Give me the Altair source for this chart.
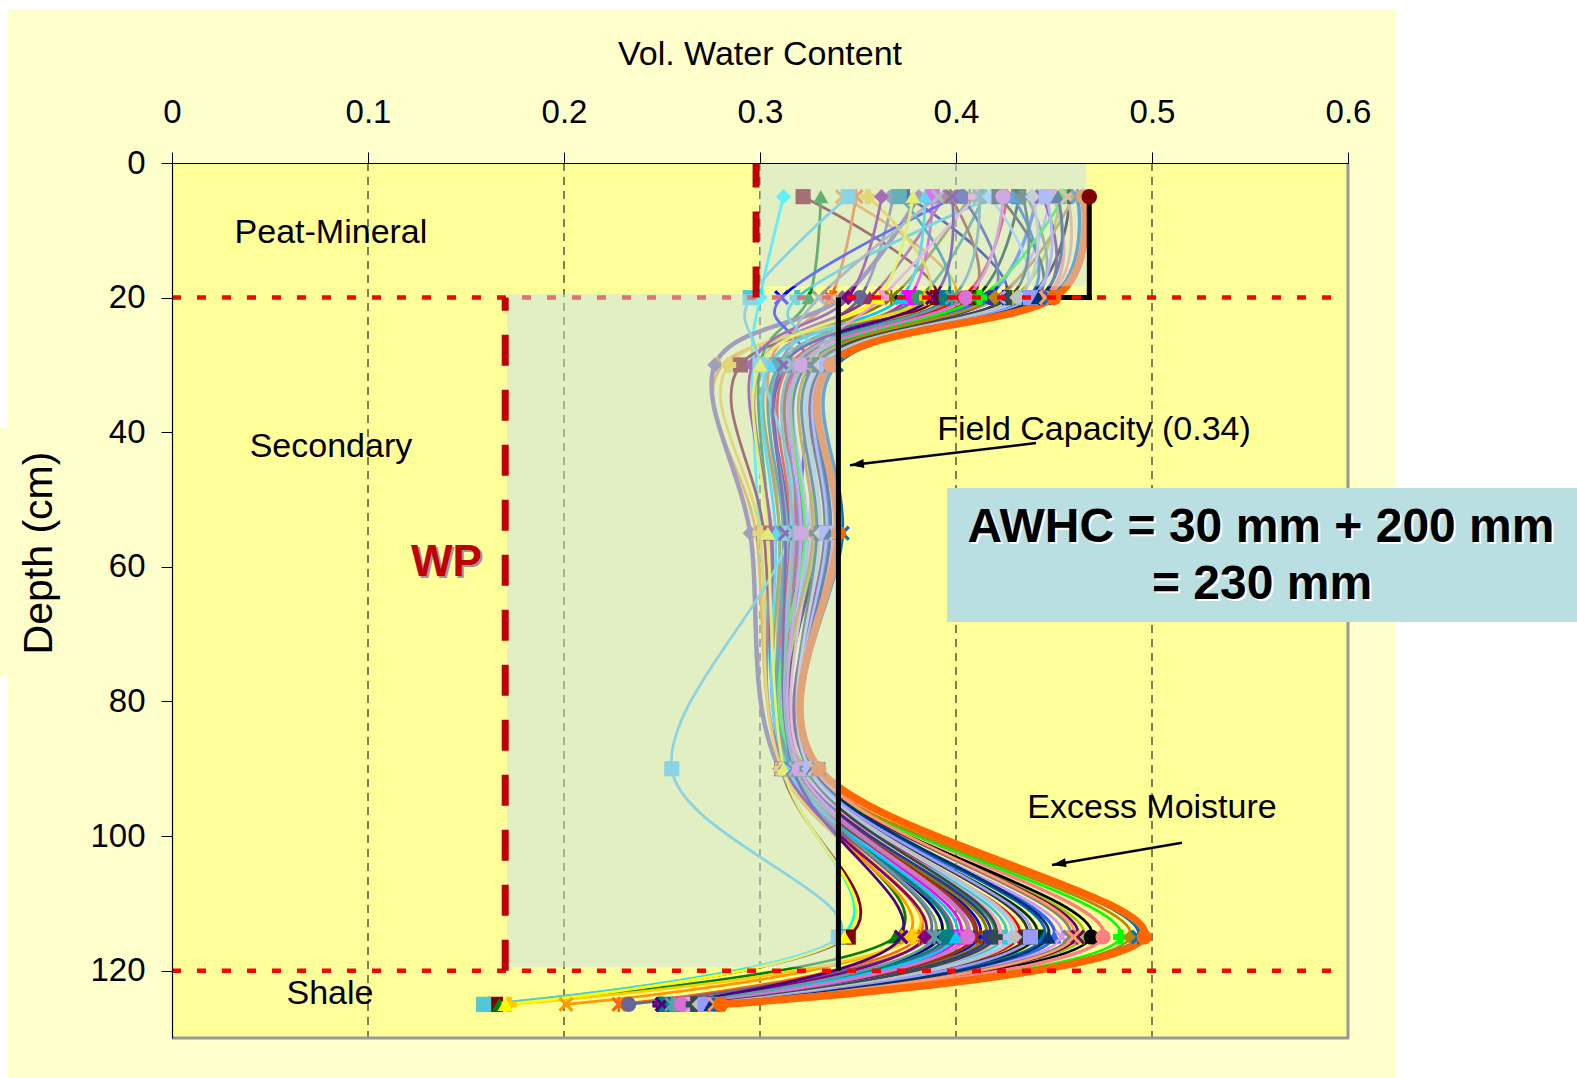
import altair as alt
import pandas as pd

# ---------------- data ----------------
DEPTHS = [5, 20, 30, 55, 90, 115, 125]

VWC_5 = [0.312, 0.322, 0.331, 0.342, 0.349, 0.368, 0.375, 0.381, 0.388, 0.394,
         0.400, 0.407, 0.414, 0.419, 0.426, 0.432, 0.441, 0.448, 0.453, 0.458,
         0.355, 0.362, 0.371, 0.384, 0.391, 0.397, 0.403, 0.410, 0.417, 0.422,
         0.429, 0.436, 0.444, 0.450, 0.455, 0.460, 0.345, 0.378, 0.398, 0.412,
         0.424, 0.434, 0.439, 0.446, 0.452, 0.457, 0.462, 0.465]
VWC_20 = [0.300, 0.390, 0.325, 0.399, 0.336, 0.351, 0.425, 0.342, 0.376, 0.356,
          0.311, 0.367, 0.381, 0.319, 0.403, 0.410, 0.415, 0.422, 0.429, 0.436,
          0.385, 0.345, 0.395, 0.372, 0.330, 0.408, 0.418, 0.362, 0.433, 0.441,
          0.437, 0.440, 0.443, 0.445, 0.412, 0.420, 0.295, 0.360, 0.388, 0.398,
          0.405, 0.427, 0.431, 0.438, 0.442, 0.446, 0.448, 0.450]
VWC_30 = [0.296, 0.290, 0.300, 0.281, 0.305, 0.310, 0.315, 0.277, 0.319, 0.300,
          0.324, 0.305, 0.310, 0.329, 0.315, 0.332, 0.319, 0.324, 0.329, 0.332,
          0.284, 0.296, 0.310, 0.305, 0.315, 0.319, 0.324, 0.327, 0.330, 0.333,
          0.335, 0.336, 0.334, 0.337, 0.322, 0.326, 0.300, 0.300, 0.312, 0.317,
          0.321, 0.328, 0.331, 0.334, 0.336, 0.338, 0.339, 0.336]
VWC_55 = [0.300, 0.302, 0.305, 0.298, 0.310, 0.312, 0.315, 0.295, 0.318, 0.305,
          0.320, 0.310, 0.314, 0.325, 0.316, 0.328, 0.320, 0.324, 0.328, 0.330,
          0.300, 0.306, 0.312, 0.308, 0.316, 0.319, 0.322, 0.326, 0.330, 0.333,
          0.335, 0.336, 0.334, 0.338, 0.323, 0.327, 0.315, 0.304, 0.313, 0.317,
          0.321, 0.329, 0.331, 0.334, 0.336, 0.339, 0.342, 0.340]
VWC_90 = [0.312, 0.311, 0.314, 0.311, 0.315, 0.316, 0.317, 0.310, 0.318, 0.313,
          0.319, 0.315, 0.316, 0.321, 0.317, 0.322, 0.319, 0.320, 0.322, 0.323,
          0.311, 0.313, 0.316, 0.314, 0.318, 0.319, 0.320, 0.322, 0.324, 0.325,
          0.326, 0.326, 0.325, 0.327, 0.321, 0.323, 0.255, 0.312, 0.317, 0.318,
          0.320, 0.324, 0.325, 0.326, 0.327, 0.328, 0.330, 0.330]
VWC_115 = [0.341, 0.345, 0.369, 0.375, 0.381, 0.386, 0.392, 0.397, 0.402, 0.409,
           0.412, 0.415, 0.419, 0.425, 0.432, 0.441, 0.450, 0.454, 0.465, 0.469,
           0.378, 0.384, 0.395, 0.400, 0.405, 0.410, 0.417, 0.422, 0.428, 0.436,
           0.445, 0.458, 0.462, 0.475, 0.484, 0.489, 0.340, 0.343, 0.372, 0.389,
           0.406, 0.420, 0.430, 0.438, 0.447, 0.460, 0.493, 0.496]
VWC_125 = [0.162, 0.165, 0.167, 0.201, 0.228, 0.233, 0.249, 0.254, 0.258, 0.261,
           0.264, 0.258, 0.254, 0.261, 0.264, 0.268, 0.271, 0.274, 0.271, 0.274,
           0.172, 0.249, 0.252, 0.256, 0.259, 0.262, 0.265, 0.263, 0.267, 0.270,
           0.272, 0.275, 0.273, 0.276, 0.277, 0.278, 0.159, 0.170, 0.250, 0.255,
           0.260, 0.266, 0.269, 0.272, 0.275, 0.277, 0.279, 0.280]

X_TICKS = [0, 0.1, 0.2, 0.3, 0.4, 0.5, 0.6]
Y_TICKS = [0, 20, 40, 60, 80, 100, 120]
GRID_X = [0.1, 0.2, 0.3, 0.4, 0.5]
LAYER_BOUNDS = [20, 120]
WP_X = [0.298, 0.170]          # wilting point: peat-mineral, secondary
WP_Y0 = [20, 120]
WP_Y1 = [0, 20]
FC_TOP = 0.468                 # field capacity peat-mineral
FC_SEC = 0.34                  # field capacity secondary
AWHC_X0 = [0.300, 0.171]
AWHC_X1 = [0.4665, 0.340]
AWHC_Y0 = [0.0, 19.5]
AWHC_Y1 = [18.3, 119.5]

# ---------------- styles ----------------
FONT = "Liberation Sans"
COLORS = [
    "#00FFFF", "#800000", "#008000", "#FF9900", "#FF6600", "#666699", "#000080", "#7F5F8F", "#FF00FF", "#993366",
    "#0000FF", "#808000", "#339966", "#33CCCC", "#FF0000", "#003300", "#3366FF", "#CC99FF", "#99CC00", "#000000",
    "#FFCC00", "#800080", "#008080", "#00CCFF", "#969696", "#993300", "#333399", "#FF99CC", "#99CCFF", "#333333",
    "#0066CC", "#808080", "#660066", "#FF8080", "#00FF00", "#B8860B", "#4FC8D8", "#FFFF00", "#4B0082", "#5F9EA0",
    "#DA70D6", "#2F4F4F", "#C0C0C0", "#9999FF", "#003366", "#FF9966", "#0070C0", "#FF6600"]
WIDE = {7: 4.5, 16: 3.5, 33: 3.5, 46: 3.5, 47: 7.5}
XPATH = "M-1,-0.7L-0.7,-1L0,-0.3L0.7,-1L1,-0.7L0.3,0L1,0.7L0.7,1L0,0.3L-0.7,1L-1,0.7L-0.3,0Z"
STARPATH = XPATH + "M-0.15,-1L0.15,-1L0.15,1L-0.15,1Z"
SHAPES = ["diamond", "square", "triangle-up", XPATH, STARPATH, "circle", "cross"]
ARROWHEAD = "M0,0L-0.45,1.4L0.45,1.4Z"

N = len(VWC_5)
cols = [VWC_5, VWC_20, VWC_30, VWC_55, VWC_90, VWC_115, VWC_125]
rows = []
for i in range(N):
    for d, arr in zip(DEPTHS, cols):
        rows.append({"series": f"s{i:02d}", "depth": d, "vwc": arr[i],
                     "col": COLORS[i], "w": WIDE.get(i, 2.8),
                     "shp": SHAPES[i % len(SHAPES)]})
df = pd.DataFrame(rows)

XS = alt.Scale(domain=[0, 0.6], nice=False, zero=False)
YS = alt.Scale(domain=[0, 130], nice=False, zero=False, reverse=True)
X_AX = alt.Axis(orient="top", values=X_TICKS, format=".1~f", title=None, grid=False,
                tickSize=11, tickColor="black", domainColor="black", domainWidth=1.2,
                labelPadding=23, labelFontSize=33, labelFont=FONT, labelColor="black",
                labelFlush=False, labelOverlap=False, zindex=1)
Y_AX = alt.Axis(orient="left", values=Y_TICKS, title=None, grid=False,
                tickSize=11, tickColor="black", domainColor="black", domainWidth=1.2,
                labelPadding=16, labelFontSize=33, labelFont=FONT, labelColor="black",
                labelFlush=False, labelOverlap=False, zindex=1)


def X(f):
    return alt.X(f, type="quantitative", scale=XS, axis=X_AX)


def Y(f):
    return alt.Y(f, type="quantitative", scale=YS, axis=Y_AX)


one = alt.Chart(pd.DataFrame({"k": [0]}))


def prect(x1, x2, y1, y2, color):
    return one.mark_rect(color=color).encode(
        x=alt.value(x1), x2=alt.value(x2), y=alt.value(y1), y2=alt.value(y2))


W, H = 1176, 875
layers = []
# backgrounds
layers.append(prect(-164, 1223, -154, 915, "#FFFFCC"))
layers.append(prect(-172, -112, 265, 514, "#FFFFCC"))
layers.append(prect(0, W, 0, H, "#FFFF99"))
# grid
layers.append(alt.Chart(pd.DataFrame({"gx": GRID_X})).mark_rule(
    color="black", strokeWidth=1, strokeDash=[8, 6]).encode(
    x=X("gx"), y=alt.value(0), y2=alt.value(H)))
# series lines
layers.append(alt.Chart(df).mark_line(interpolate="cardinal").encode(
    x=X("vwc"), y=Y("depth"), detail="series:N",
    order=alt.Order("depth:Q"),
    color=alt.Color("col:N", scale=None),
    strokeWidth=alt.StrokeWidth("w:Q", scale=None)))
# field capacity step in peat-mineral layer
fc_df = pd.DataFrame({"x": [FC_TOP, FC_SEC], "x2": [FC_TOP, FC_TOP],
                      "y": [5, 20], "y2": [20, 20]})
layers.append(alt.Chart(fc_df).mark_rule(color="black", strokeWidth=5, strokeCap="square").encode(
    x=X("x"), x2="x2", y=Y("y"), y2="y2"))
# markers
layers.append(alt.Chart(df).mark_point(filled=True, size=230, opacity=1, strokeWidth=0).encode(
    x=X("vwc"), y=Y("depth"),
    color=alt.Color("col:N", scale=None),
    shape=alt.Shape("shp:N", scale=None)))
# red dotted layer boundaries
lb = pd.DataFrame({"y": LAYER_BOUNDS, "x": [0, 0], "x2": [0.6, 0.6]})
layers.append(alt.Chart(lb).mark_rule(color="#FF0000", strokeWidth=4.5, strokeDash=[9, 16]).encode(
    x=X("x"), x2="x2", y=Y("y")))
# AWHC shaded overlays
aw = pd.DataFrame({"x": AWHC_X0, "x2": AWHC_X1, "y": AWHC_Y0, "y2": AWHC_Y1})
layers.append(alt.Chart(aw).mark_rect(color="#C6E0EE", opacity=0.5).encode(
    x=X("x"), x2="x2", y=Y("y"), y2="y2"))
# wilting point dashed red
wp = pd.DataFrame({"x": WP_X, "y": WP_Y0, "y2": WP_Y1})
layers.append(alt.Chart(wp).mark_rule(color="#C00000", strokeWidth=7, strokeDash=[31, 24]).encode(
    x=X("x"), y=Y("y"), y2="y2"))
# field capacity in secondary layer
fc2 = pd.DataFrame({"x": [FC_SEC], "y": [20], "y2": [120]})
layers.append(alt.Chart(fc2).mark_rule(color="black", strokeWidth=5).encode(
    x=X("x"), y=Y("y"), y2="y2"))
fcp = pd.DataFrame({"x": [FC_TOP], "y": [5]})
layers.append(alt.Chart(fcp).mark_point(filled=True, size=240, opacity=1, color="#800000", shape="circle").encode(
    x=X("x"), y=Y("y")))
# plot borders right/bottom
layers.append(one.mark_rule(color="#999999", strokeWidth=3).encode(
    x=alt.value(W), y=alt.value(0), y2=alt.value(H + 1)))
layers.append(one.mark_rule(color="#999999", strokeWidth=3).encode(
    x=alt.value(0), x2=alt.value(W + 1), y=alt.value(H)))

# annotations
ann = pd.DataFrame({
    "t": ["Peat-Mineral", "Secondary", "Field Capacity (0.34)", "Excess Moisture", "Shale"],
    "x": [0.0811, 0.0811, 0.4704, 0.500, 0.0806],
    "y": [10.4, 42.2, 39.7, 95.8, 123.5]})
layers.append(alt.Chart(ann).mark_text(font=FONT, fontSize=34, color="black",
                                       align="center", baseline="middle").encode(
    x=X("x"), y=Y("y"), text="t:N"))
wpt = pd.DataFrame({"t": ["WP"], "x": [0.140], "y": [59.5]})
layers.append(alt.Chart(wpt).mark_text(font=FONT, fontSize=44, fontWeight="bold", color="#999999",
                                       align="center", baseline="middle", dx=2, dy=2).encode(
    x=X("x"), y=Y("y"), text="t:N"))
layers.append(alt.Chart(wpt).mark_text(font=FONT, fontSize=44, fontWeight="bold", color="#C00000",
                                       align="center", baseline="middle").encode(
    x=X("x"), y=Y("y"), text="t:N"))
arr = pd.DataFrame({"x": [0.4408, 0.5153], "y": [41.6, 101.0],
                    "x2": [0.3459, 0.4490], "y2": [44.9, 104.3], "ang": [263.3, 260.4]})
layers.append(alt.Chart(arr).mark_rule(color="black", strokeWidth=2.5).encode(
    x=X("x"), y=Y("y"), x2="x2", y2="y2"))
layers.append(alt.Chart(arr).mark_point(filled=True, size=400, opacity=1, color="black",
                                        shape=ARROWHEAD, strokeWidth=0).encode(
    x=X("x2"), y=Y("y2"), angle=alt.Angle("ang:Q", scale=None)))

# AWHC box
layers.append(prect(775, 1405, 325, 459, "#B9DFE3"))
for txt, px, py in [("AWHC = 30 mm + 200 mm", 1089, 365), ("= 230 mm", 1090, 422)]:
    layers.append(one.mark_text(font=FONT, fontSize=48, fontWeight="bold", color="white",
                                align="center", baseline="middle", text=txt).encode(
        x=alt.value(px + 2), y=alt.value(py + 2)))
    layers.append(one.mark_text(font=FONT, fontSize=48, fontWeight="bold", color="black",
                                align="center", baseline="middle", text=txt).encode(
        x=alt.value(px), y=alt.value(py)))

# axis titles
layers.append(one.mark_text(font=FONT, fontSize=34, color="black", align="center",
                            baseline="middle", text="Vol. Water Content").encode(
    x=alt.value(588), y=alt.value(-108)))
layers.append(one.mark_text(font=FONT, fontSize=41, color="black", align="center",
                            baseline="middle", angle=270, text="Depth (cm)").encode(
    x=alt.value(-132), y=alt.value(390)))

chart = alt.layer(*layers).properties(
    width=W, height=H,
    padding={"left": 172, "top": 163, "right": 229, "bottom": 40},
    autosize=alt.AutoSizeParams(type="none"),
    background="white",
).configure_view(stroke=None)

chart.save("out.html", embed_options={"renderer": "svg", "actions": False})
